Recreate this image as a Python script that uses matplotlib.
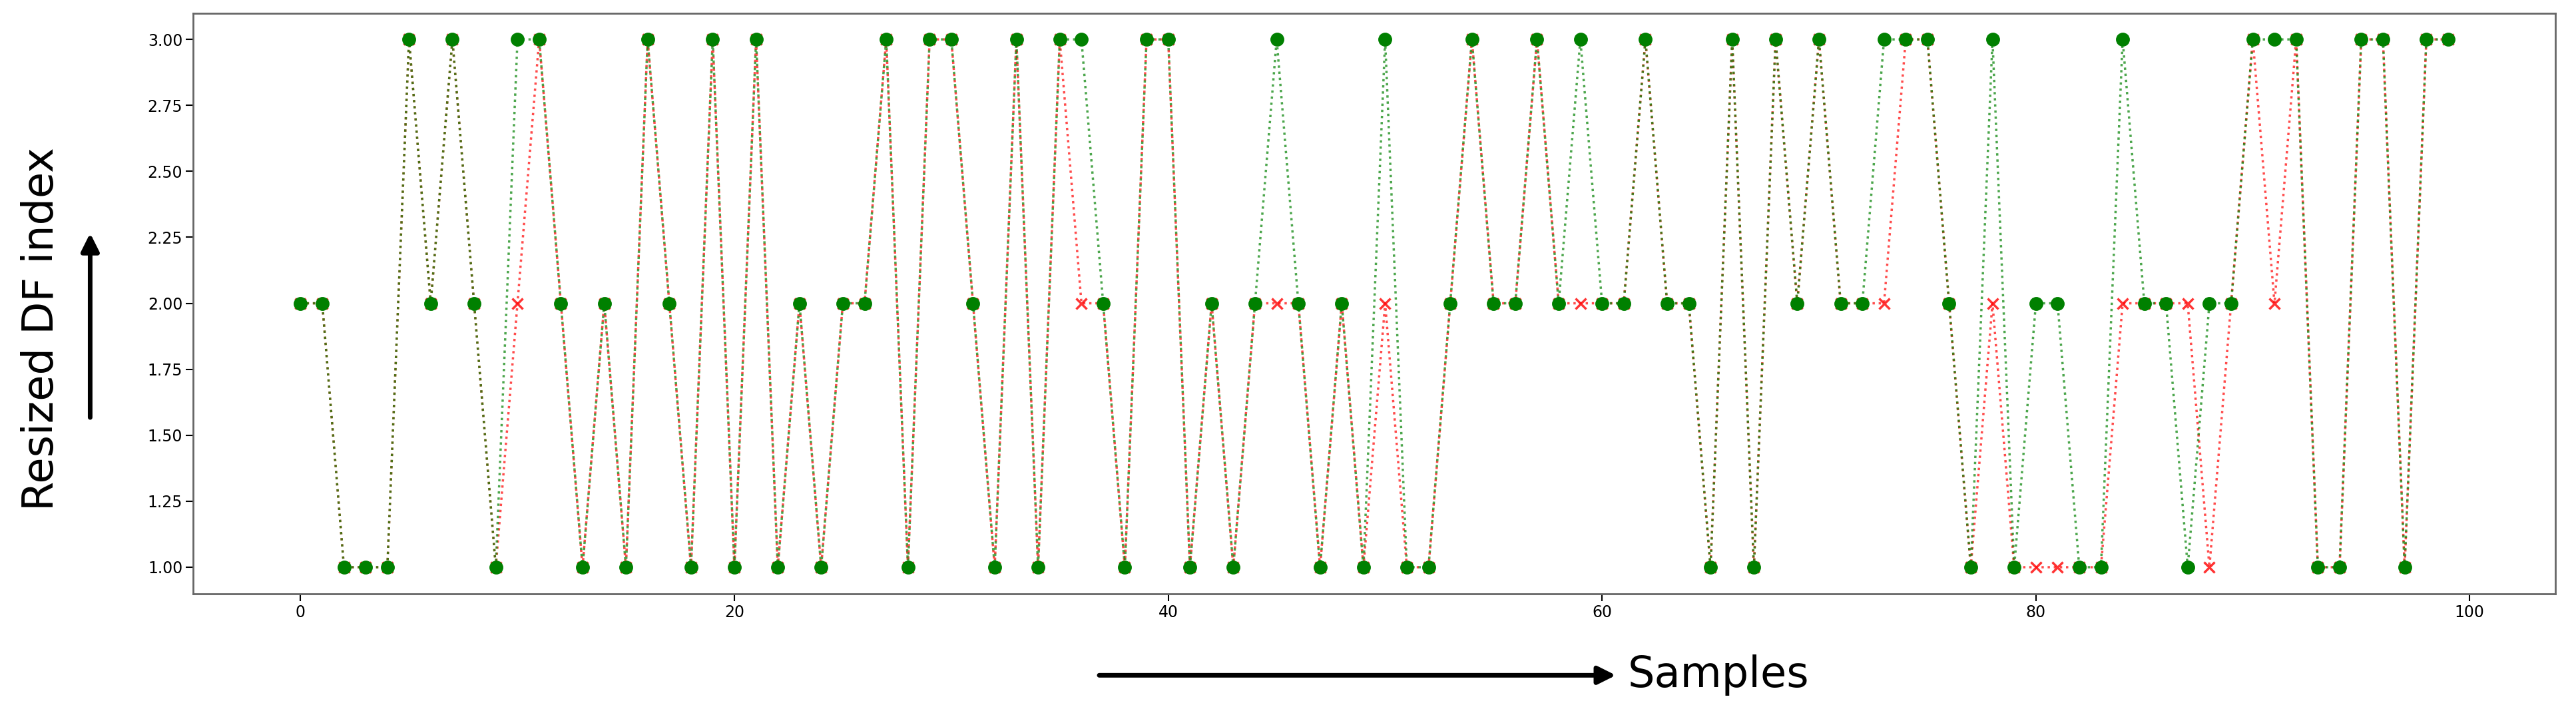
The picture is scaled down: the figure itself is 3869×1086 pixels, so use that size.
import matplotlib.pyplot as plt

samples = list(range(100))

# green series (o markers)
predicted = [2, 2, 1, 1, 1, 3, 2, 3, 2, 1,
             3, 3, 2, 1, 2, 1, 3, 2, 1, 3,
             1, 3, 1, 2, 1, 2, 2, 3, 1, 3,
             3, 2, 1, 3, 1, 3, 3, 2, 1, 3,
             3, 1, 2, 1, 2, 3, 2, 1, 2, 1,
             3, 1, 1, 2, 3, 2, 2, 3, 2, 3,
             2, 2, 3, 2, 2, 1, 3, 1, 3, 2,
             3, 2, 2, 3, 3, 3, 2, 1, 3, 1,
             2, 2, 1, 1, 3, 2, 2, 1, 2, 2,
             3, 3, 3, 1, 1, 3, 3, 1, 3, 3]

# red series (x markers), differs where the red crosses show
actual = [2, 2, 1, 1, 1, 3, 2, 3, 2, 1,
          2, 3, 2, 1, 2, 1, 3, 2, 1, 3,
          1, 3, 1, 2, 1, 2, 2, 3, 1, 3,
          3, 2, 1, 3, 1, 3, 2, 2, 1, 3,
          3, 1, 2, 1, 2, 2, 2, 1, 2, 1,
          2, 1, 1, 2, 3, 2, 2, 3, 2, 2,
          2, 2, 3, 2, 2, 1, 3, 1, 3, 2,
          3, 2, 2, 2, 3, 3, 2, 1, 2, 1,
          1, 1, 1, 1, 2, 2, 2, 2, 1, 2,
          3, 2, 3, 1, 1, 3, 3, 1, 3, 3]

fig = plt.figure(figsize=(38.69, 10.86), dpi=100)
ax = fig.add_axes([0.075, 0.179, 0.917, 0.803])

# dotted lines first, then the markers on top
ax.plot(samples, actual, color='red', linestyle=':', linewidth=2.5, alpha=0.7)
ax.plot(samples, predicted, color='green', linestyle=':', linewidth=2.5, alpha=0.7)
ax.plot(samples, actual, color='red', linestyle='none', marker='x',
        markersize=12, markeredgewidth=2.5, alpha=0.8)
ax.plot(samples, predicted, color='green', linestyle='none', marker='o', markersize=14)

ax.set_xticks([0, 20, 40, 60, 80, 100])
ax.set_yticks([1.0, 1.25, 1.5, 1.75, 2.0, 2.25, 2.5, 2.75, 3.0])
ax.set_yticklabels(['%.2f' % v for v in ax.get_yticks()])
ax.tick_params(labelsize=17, length=8, width=1.5)
for s in ax.spines.values():
    s.set_color('#666666')
    s.set_linewidth(2)

# axis captions with arrows, as in the reference
fig.text(0.016, 0.545, 'Resized DF index', rotation=90, ha='center', va='center', fontsize=46)
ax.annotate('', xy=(0.035, 0.68), xytext=(0.035, 0.42), xycoords='figure fraction',
            arrowprops=dict(arrowstyle='-|>', color='black', lw=5, mutation_scale=40),
            annotation_clip=False)
ax.annotate('', xy=(0.628, 0.066), xytext=(0.426, 0.066), xycoords='figure fraction',
            arrowprops=dict(arrowstyle='-|>', color='black', lw=5, mutation_scale=40),
            annotation_clip=False)
fig.text(0.632, 0.066, 'Samples', ha='left', va='center', fontsize=46)

plt.savefig('out.png', dpi=100)
